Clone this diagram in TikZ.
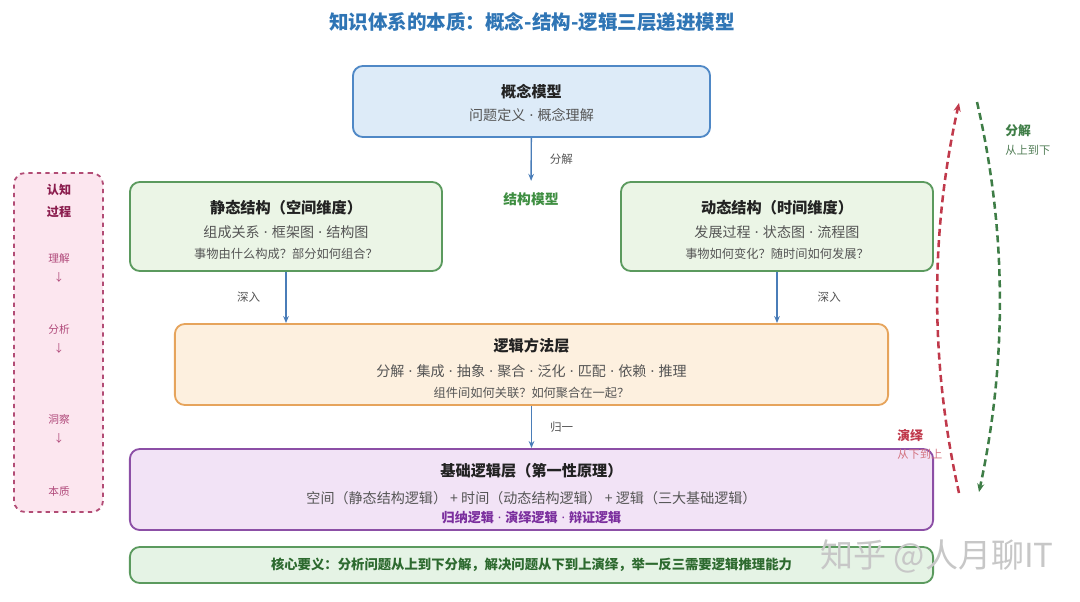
\documentclass[tikz,border=0pt]{standalone}
\usepackage{fontspec}
\setmainfont{Noto Sans CJK SC}
\newfontfamily\latinfont{Noto Sans}
\usetikzlibrary{arrows.meta,positioning,calc}
\definecolor{TitleBlue}{HTML}{2F75B5}
\definecolor{FlowBlue}{HTML}{4A7DB8}
\definecolor{HeadDark}{HTML}{222222}
\definecolor{TextGray}{HTML}{555555}
\definecolor{ConceptFill}{HTML}{DDEBF8}
\definecolor{ConceptLine}{HTML}{4F88C6}
\definecolor{StructFill}{HTML}{EBF5E6}
\definecolor{StructLine}{HTML}{5B9A5E}
\definecolor{StructText}{HTML}{3E8E41}
\definecolor{MethodFill}{HTML}{FDF0DF}
\definecolor{MethodLine}{HTML}{E6A45C}
\definecolor{BaseFill}{HTML}{F2E3F6}
\definecolor{BaseLine}{HTML}{8C4FA6}
\definecolor{BaseText}{HTML}{7B2F9E}
\definecolor{CoreFill}{HTML}{E5F3E5}
\definecolor{CoreText}{HTML}{2D6A2F}
\definecolor{CogFill}{HTML}{FCE6EF}
\definecolor{CogLine}{HTML}{B24C75}
\definecolor{CogHead}{HTML}{8B1D4E}
\definecolor{CogText}{HTML}{B0497A}
\definecolor{DownGreen}{HTML}{3E7D46}
\definecolor{UpRed}{HTML}{C0394B}
\newcommand{\boxhead}[2][9.5pt]{{\rule{0pt}{#1}\fontsize{10.8}{13}\selectfont\bfseries\color{HeadDark}#2}}
\newcommand{\boxline}[1]{{\fontsize{10}{12}\selectfont\color{TextGray}#1}}
\newcommand{\boxnote}[1]{{\fontsize{8.7}{10}\selectfont\color{TextGray}#1}}
\newcommand{\dotsep}{\hspace{0.3em}{\latinfont·}\hspace{0.3em}}

\begin{document}
\begin{tikzpicture}[x=0.025cm,y=-0.025cm,every node/.style={inner sep=0pt}]
    \tikzset{layer/.style={rounded corners=7pt,line width=1.3pt,align=center,
      font=\fontsize{10}{15}\selectfont},
      flow/.style={-{Stealth[length=5pt,width=4pt]},draw=FlowBlue,line width=1pt},
      lbl/.style={font=\fontsize{8.2}{10}\selectfont,text=TextGray},
      sweep/.style={dashed,dash pattern=on 5pt off 3pt,line width=1.8pt},
      cogitem/.style={font=\fontsize{7.6}{9}\selectfont,text=CogText}}
    \useasboundingbox (0,0) rectangle (1080,601);
    \node[font=\fontsize{13.9}{16}\selectfont\bfseries,text=TitleBlue] (title) at (532,22)
      {知识体系的本质：概念-结构-逻辑三层递进模型};
    % layers
    \node[layer,fill=ConceptFill,draw=ConceptLine,minimum width=8.925cm,minimum height=1.775cm]
      (concept) at (531.5,101.5) {\boxhead[11pt]{概念模型}\\[1.4pt]\boxline{问题定义\dotsep 概念理解}};
    \node[font=\fontsize{9.8}{12}\selectfont\bfseries,text=StructText] (struct) at (531,199) {结构模型};
    \node[layer,fill=StructFill,draw=StructLine,minimum width=7.8cm,minimum height=2.225cm]
      (static) at (286,226.5) {\boxhead[13.7pt]{静态结构（空间维度）}\\[2pt]\boxline{组成关系\dotsep 框架图\dotsep 结构图}\\[0pt]\boxnote{事物由什么构成？部分如何组合？}};
    \node[layer,fill=StructFill,draw=StructLine,minimum width=7.8cm,minimum height=2.225cm]
      (dynamic) at (777,226.5) {\boxhead[13.7pt]{动态结构（时间维度）}\\[2pt]\boxline{发展过程\dotsep 状态图\dotsep 流程图}\\[0pt]\boxnote{事物如何变化？随时间如何发展？}};
    \node[layer,fill=MethodFill,draw=MethodLine,minimum width=17.825cm,minimum height=2.025cm]
      (method) at (531.5,364.5) {\boxhead[14.5pt]{逻辑方法层}\\[2.8pt]\boxline{分解\dotsep 集成\dotsep 抽象\dotsep 聚合\dotsep 泛化\dotsep 匹配\dotsep 依赖\dotsep 推理}\\[0pt]\boxnote{组件间如何关联？如何聚合在一起？}};
    \node[layer,fill=BaseFill,draw=BaseLine,minimum width=20.075cm,minimum height=2.025cm]
      (base) at (531.5,489.5) {\boxhead[15.2pt]{基础逻辑层（第一性原理）}\\[4.9pt]\boxline{空间（静态结构逻辑） + 时间（动态结构逻辑） + 逻辑（三大基础逻辑）}\\[-1.5pt]{\fontsize{9.3}{10}\selectfont\bfseries\color{BaseText}归纳逻辑\dotsep 演绎逻辑\dotsep 辩证逻辑}};
    \node[layer,fill=CoreFill,draw=StructLine,minimum width=20.075cm,minimum height=0.9cm,
      font=\fontsize{9.5}{12}\selectfont\bfseries,text=CoreText]
      (core) at (531.5,565) {核心要义：分析问题从上到下分解，解决问题从下到上演绎，举一反三需要逻辑推理能力};
    % flow
    \draw[flow,shorten >=8pt] (concept) -- (struct) node[lbl,pos=0.4,right=0.45cm] {分解};
    \draw[flow] (static) -- (static |- method.north) node[lbl,midway,left=0.63cm] {深入};
    \draw[flow] (dynamic) -- (dynamic |- method.north) node[lbl,midway,right=1cm] {深入};
    \draw[flow] (method) -- (base) node[lbl,midway,right=0.45cm] {归一};
    % cognitive process
    \node[rounded corners=8pt,draw=CogLine,fill=CogFill,dashed,line width=1.3pt,
      minimum width=2.225cm,minimum height=8.475cm] (cog) at (58.5,342.5) {};
    \node[align=center,font=\fontsize{8.6}{15.6}\selectfont\bfseries,text=CogHead] (cog-t) at (59,201) {认知\\过程};
    \foreach \y/\t [count=\i] in {258/理解,277/↓,329/分析,348/↓,419/洞察,438/↓,491/本质}
      \node[cogitem] (cog-\i) at (59,\y) {\t};
    % top-down / bottom-up sweep
    \coordinate (up-s) at (959,493);
    \coordinate (up-e) at (959,103);
    \coordinate (dn-s) at (977,102);
    \coordinate (dn-e) at (979,492);
    \draw[sweep,draw=UpRed,-{Stealth[length=6pt,width=5pt]}] (up-s) .. controls (930,363) and (930,233) .. (up-e);
    \draw[sweep,draw=DownGreen,-{Stealth[length=6pt,width=5pt]}] (dn-s) .. controls (1007,232) and (1007,362) .. (dn-e);
    \node[anchor=west,font=\fontsize{9.1}{11}\selectfont\bfseries,text=DownGreen] (dn-t) at (1005,131) {分解};
    \node[anchor=west,font=\fontsize{8}{10}\selectfont,text=DownGreen!70!gray] (dn-s-t) at (1005,150) {从上到下};
    \node[anchor=west,font=\fontsize{9.1}{11}\selectfont\bfseries,text=UpRed] (up-t) at (897,436) {演绎};
    \node[anchor=west,font=\fontsize{8}{10}\selectfont,text=UpRed!70!white] (up-s-t) at (897,454) {从下到上};
    \node[anchor=west,font=\fontsize{23.5}{26}\selectfont,text=black!22] (mark) at (820,556) {知乎 @人月聊IT};
  \end{tikzpicture}
\end{document}
